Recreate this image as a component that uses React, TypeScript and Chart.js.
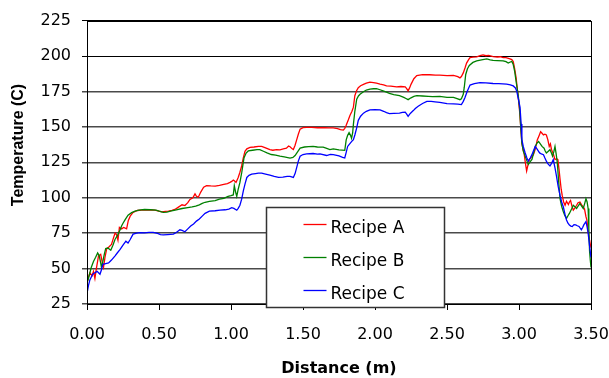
import React, { useEffect, useRef } from "react";
import { Chart, registerables } from "chart.js";

Chart.register(...registerables);

// Distance (m) / temperature (C) samples for each recipe
const distA = [0.00,0.01,0.02,0.035,0.045,0.055,0.065,0.08,0.095,0.105,0.115,0.125,0.137,0.15,0.17,0.185,0.195,0.205,0.215,0.225,0.24,0.255,0.275,0.287,0.30,0.32,0.35,0.38,0.42,0.47,0.50,0.52,0.545,0.565,0.59,0.61,0.63,0.66,0.68,0.70,0.715,0.735,0.75,0.76,0.773,0.79,0.81,0.83,0.86,0.89,0.92,0.95,0.975,0.993,1.005,1.016,1.025,1.035,1.05,1.062,1.074,1.085,1.097,1.11,1.132,1.16,1.19,1.213,1.24,1.27,1.29,1.317,1.34,1.363,1.385,1.40,1.41,1.425,1.433,1.445,1.456,1.468,1.48,1.50,1.525,1.56,1.60,1.618,1.65,1.68,1.71,1.74,1.76,1.78,1.79,1.80,1.815,1.826,1.84,1.85,1.86,1.872,1.884,1.90,1.92,1.94,1.965,1.99,2.01,2.035,2.06,2.08,2.11,2.15,2.18,2.21,2.22,2.23,2.24,2.25,2.27,2.29,2.33,2.38,2.42,2.45,2.50,2.545,2.575,2.59,2.60,2.613,2.625,2.636,2.65,2.66,2.68,2.706,2.73,2.75,2.77,2.79,2.82,2.85,2.87,2.89,2.91,2.937,2.95,2.96,2.97,2.98,2.987,2.995,3.005,3.012,3.02,3.028,3.035,3.045,3.053,3.062,3.072,3.085,3.10,3.112,3.127,3.14,3.15,3.16,3.17,3.18,3.19,3.20,3.21,3.218,3.226,3.238,3.25,3.262,3.27,3.278,3.285,3.293,3.30,3.31,3.32,3.33,3.343,3.35,3.358,3.368,3.377,3.39,3.40,3.41,3.423,3.435,3.446,3.455,3.465,3.472,3.48,3.49,3.50];
const tempA = [40,44,47,45,48,43,50,59,60,55,51,58,64,65,67,72,75,74,70,79,78,79,78,84,87,89.6,91,91.2,91.5,91.2,90.5,90,90.3,90.5,91,91.7,93,95,94.5,96.5,98.8,100,102.7,101,100.4,104,107.4,108.5,108.3,108.2,108.7,109.5,110,110.8,111.5,112.5,111.8,110.8,114.3,118,122.4,128,132.8,134.5,135.5,135.8,136.3,136.3,135.2,133.9,133.5,134,133.8,134.5,135,136.5,136,134.5,134,137,140.8,145,148.4,149.5,149.7,149.6,149.4,149.4,149.5,149.3,149.3,148.8,148,147.7,149,151.2,155,158,161,163.9,172,175.5,177.7,179,180,180.8,181.6,181.2,180.8,180.1,179.6,179,178.8,178.2,178.5,178.2,177,175.4,177.5,180,184,186.2,186.8,186.8,186.5,186.5,186.2,186.3,185.5,184.6,185.5,188.1,191.5,195,197.5,198.9,199.2,199.4,200.3,200.8,200.2,200.5,199.6,199.3,199.5,198.9,198.8,198,197.5,196.2,191,184.6,178,170.8,160,150,138.5,134,131.6,124,118.9,123,126.9,128.5,130.4,134,140.8,144,146.6,145.5,144.3,144.8,144.3,141,136.2,138,133.9,131,126.9,127.5,126.9,120,113.1,106,101.6,97,94.7,97.5,95.2,97,98.1,94,91.2,93,94.7,96.5,96.9,95,93.5,92,86.6,84,76.2,70,64.7];

const distB = [0.00,0.01,0.02,0.03,0.045,0.06,0.074,0.085,0.095,0.10,0.11,0.12,0.13,0.145,0.165,0.18,0.195,0.21,0.23,0.24,0.25,0.265,0.285,0.31,0.333,0.36,0.40,0.44,0.48,0.50,0.53,0.555,0.58,0.62,0.66,0.70,0.73,0.755,0.78,0.80,0.82,0.85,0.89,0.92,0.95,0.98,1.00,1.016,1.023,1.032,1.04,1.05,1.062,1.075,1.09,1.105,1.12,1.15,1.18,1.20,1.225,1.25,1.28,1.31,1.34,1.37,1.41,1.43,1.445,1.46,1.48,1.51,1.54,1.57,1.60,1.64,1.66,1.687,1.71,1.75,1.79,1.80,1.81,1.82,1.83,1.837,1.845,1.85,1.86,1.873,1.885,1.896,1.92,1.94,1.965,1.99,2.01,2.035,2.056,2.08,2.10,2.13,2.17,2.20,2.215,2.23,2.25,2.27,2.29,2.33,2.37,2.40,2.45,2.50,2.545,2.57,2.59,2.60,2.613,2.62,2.63,2.642,2.655,2.68,2.706,2.74,2.776,2.80,2.82,2.85,2.89,2.91,2.925,2.94,2.95,2.96,2.97,2.98,2.995,3.005,3.012,3.02,3.03,3.043,3.055,3.065,3.078,3.09,3.10,3.113,3.125,3.136,3.148,3.16,3.174,3.182,3.19,3.20,3.215,3.225,3.233,3.242,3.25,3.258,3.266,3.275,3.285,3.296,3.308,3.318,3.33,3.34,3.35,3.365,3.377,3.39,3.40,3.41,3.423,3.435,3.446,3.455,3.465,3.473,3.48,3.485,3.49,3.495,3.50];
const tempB = [40,43,47,51,55,58,61,59,54,51,55,60,64.2,64.5,63,66.5,70.7,73,77.4,80,82,84.5,87.7,89.5,90.5,91.2,91.7,91.5,91.2,90.5,89.6,89.8,90.5,91.5,92.4,93,93.5,94,95,96,96.8,97.5,98,99,99.5,101,101.5,102,108.5,104,101,106,110.8,118,128,131.5,133,133.5,134,134,132.8,131.6,130.5,130,129.3,128.8,128,128.4,129.8,132,135,135.8,136,136.2,135.8,135.7,135,134,134.4,133.8,133.4,140.8,144,145.9,144,142,146,151.8,161,169.6,171.8,173,174.8,176,176.6,176.9,177,176.2,175.4,174.5,173.6,172.8,172,170.8,170,169.2,170.5,171.5,172,171.8,171.5,171.3,171.5,170.8,170.8,170,169.2,169.8,173,178,187,191,193.4,195.5,196.6,197.3,198,197.3,197,196.8,196.6,196,195,195.8,196.2,194,189.2,182,172,162,150,138.5,133,129.3,126,123.5,125.5,127,131,136.2,138.5,139.7,138,136.2,135,133,131.6,132.5,133.9,131.5,129.3,132.5,136.2,131,124.7,112,99.3,94,90.1,87.5,85.4,87.3,88.9,92,94.7,93.5,92.4,94,95.9,94,92.4,95.5,99.3,97,92.4,78,62.4,56,50.8];

const distC = [0.00,0.01,0.02,0.03,0.04,0.055,0.07,0.08,0.09,0.10,0.11,0.13,0.15,0.17,0.195,0.21,0.23,0.25,0.27,0.285,0.30,0.32,0.345,0.37,0.40,0.43,0.46,0.49,0.51,0.53,0.56,0.60,0.62,0.645,0.66,0.68,0.70,0.72,0.74,0.76,0.78,0.80,0.82,0.85,0.89,0.924,0.96,0.985,1.005,1.02,1.04,1.05,1.062,1.074,1.086,1.098,1.11,1.125,1.144,1.17,1.19,1.213,1.24,1.27,1.30,1.33,1.36,1.39,1.41,1.433,1.445,1.456,1.468,1.48,1.50,1.525,1.57,1.60,1.618,1.664,1.69,1.71,1.75,1.775,1.79,1.80,1.81,1.82,1.837,1.85,1.86,1.872,1.884,1.90,1.92,1.94,1.965,2.00,2.035,2.06,2.08,2.10,2.13,2.17,2.19,2.21,2.22,2.23,2.245,2.266,2.28,2.30,2.33,2.36,2.39,2.417,2.45,2.50,2.545,2.575,2.60,2.613,2.625,2.64,2.66,2.69,2.729,2.77,2.82,2.86,2.914,2.94,2.96,2.975,2.984,2.995,3.007,3.015,3.02,3.03,3.043,3.055,3.065,3.078,3.09,3.10,3.113,3.128,3.143,3.155,3.17,3.18,3.19,3.20,3.215,3.225,3.238,3.25,3.26,3.272,3.285,3.296,3.308,3.32,3.33,3.34,3.35,3.36,3.37,3.382,3.394,3.405,3.417,3.425,3.433,3.442,3.45,3.458,3.465,3.472,3.48,3.49,3.50];
const tempC = [32.4,38,42,44,46,47,48,47,46,49,53,53.5,54,56,59,61,63.5,66.5,69.3,68,70.5,74.3,75,75.4,75.2,75.5,75.6,74.8,74,73.8,74,74.3,75.5,77.4,77,76,78,80,81.5,83.5,85,87,89,90.5,90.8,91.2,91.5,92,93,92.5,91.2,92.5,94.7,99,105,110,114.3,115.8,116.6,117,117.3,117.3,116.7,116,115,114.3,114.6,115,115,114.3,117,121.2,126,129.3,130.5,131,131.2,130.8,131,129.8,130.6,130.4,129.5,128.5,128.1,132,136.2,137.5,139.6,141,144.3,149,154.6,157.5,159.7,161,162,162.2,162,161,160,159.3,159.5,159.7,160.2,160.4,159,157.4,159.5,161.5,163,164.6,166.5,168,168,167.7,167.3,166.4,166.2,166,165.7,168,170.8,175,179.5,180.5,181.2,181,180.6,180.5,180.1,179.7,178.9,177.5,175.4,170,163.9,152,141,136,131.6,128,125.8,128,130.4,133,136.2,134,131.6,131,130.4,128,125.8,124,122.4,124,126.9,121,115.5,108,101.6,97,93.5,88,84.3,82,80.8,80,79.7,81,80.8,80.2,79.7,78.5,77.4,79,80.8,82,83.1,80,75.1,66,57.8];

const seriesNames = ["Recipe A", "Recipe B", "Recipe C"];
const seriesColors = ["#ff0000", "#008000", "#0000ff"];
const yTicks = [25, 50, 75, 100, 125, 150, 175, 200, 225];

const TICK_FONT = { family: "'DejaVu Sans', sans-serif", size: 16 };

function pairs(xs: number[], ys: number[]) {
  return xs.map((x, i) => ({ x, y: ys[i] }));
}

// Frame, rotated y title and the boxed legend inside the plot area
const decorations = {
  id: "decorations",
  afterDatasetsDraw(chart: any) {
    const { ctx, chartArea: ca } = chart;
    ctx.save();
    // plot frame
    ctx.strokeStyle = "#000";
    ctx.lineWidth = 1;
    ctx.strokeRect(Math.round(ca.left) + 0.5, Math.round(ca.top) + 0.5, Math.round(ca.right - ca.left), Math.round(ca.bottom - ca.top));

    // legend box
    const bx = Math.round(ca.left + 179) + 0.5;
    const by = Math.round(ca.top + 186) + 0.5;
    const bw = 178;
    const bh = 100;
    ctx.fillStyle = "#fff";
    ctx.fillRect(bx, by, bw, bh);
    ctx.strokeStyle = "#333";
    ctx.lineWidth = 1.5;
    ctx.strokeRect(bx, by, bw, bh);

    ctx.font = "17px 'DejaVu Sans', sans-serif";
    ctx.textBaseline = "middle";
    ctx.textAlign = "left";
    seriesNames.forEach((name, i) => {
      const rowY = by + 21 + i * 33;
      ctx.strokeStyle = seriesColors[i];
      ctx.lineWidth = 1.3;
      ctx.beginPath();
      ctx.moveTo(bx + 37, rowY - 4);
      ctx.lineTo(bx + 60, rowY - 4);
      ctx.stroke();
      ctx.fillStyle = "#000";
      ctx.fillText(name, bx + 64, rowY);
    });

    // y axis title
    ctx.translate(19, 145);
    ctx.rotate(-Math.PI / 2);
    ctx.font = "bold 16px 'Liberation Sans', Arial, sans-serif";
    ctx.textAlign = "center";
    ctx.textBaseline = "middle";
    ctx.fillStyle = "#000";
    ctx.fillText("Temperature (C)", 0, 0);
    ctx.restore();
  },
};

export default function App() {
  const ref = useRef<HTMLCanvasElement | null>(null);

  useEffect(() => {
    document.body.style.margin = "0";
    const canvas = ref.current;
    if (!canvas) return;
    const chart = new Chart(canvas, {
      type: "line",
      data: {
        datasets: [
          { label: seriesNames[0], data: pairs(distA, tempA), borderColor: seriesColors[0], order: 2 },
          { label: seriesNames[1], data: pairs(distB, tempB), borderColor: seriesColors[1], order: 1 },
          { label: seriesNames[2], data: pairs(distC, tempC), borderColor: seriesColors[2], order: 0 },
        ].map((d) => ({ ...d, borderWidth: 1.3, pointRadius: 0, tension: 0, fill: false })),
      },
      options: {
        responsive: false,
        animation: false,
        events: [],
        layout: { padding: { left: 0, right: 0, top: 15, bottom: 0 } },
        plugins: { legend: { display: false }, tooltip: { enabled: false } },
        scales: {
          x: {
            type: "linear",
            min: 0,
            max: 3.5,
            afterFit: (s: any) => { s.height = 74; s.paddingRight = 18; },
            ticks: {
              stepSize: 0.5,
              color: "#000",
              font: TICK_FONT,
              padding: 15,
              maxRotation: 0,
              callback: (v: any) => Number(v).toFixed(2),
            },
            grid: { drawOnChartArea: false, drawTicks: true, tickLength: 6, color: "#000", lineWidth: 1 },
            border: { color: "#000", width: 1 },
            title: {
              display: true,
              text: "Distance (m)",
              color: "#000",
              font: { family: "'DejaVu Sans', sans-serif", size: 16, weight: "bold" },
              padding: { top: 0, bottom: 0 },
            },
          },
          y: {
            min: 25,
            max: 225,
            afterFit: (s: any) => { s.width = 87; },
            afterBuildTicks: (s: any) => { s.ticks = yTicks.map((v) => ({ value: v })); },
            ticks: { color: "#000", font: TICK_FONT, padding: 11 },
            grid: {
              drawTicks: true,
              tickLength: 5,
              color: (c: any) => (c.tick && c.tick.value >= 200 ? "#000" : "#4a4a4a"),
              lineWidth: (c: any) => (c.tick && c.tick.value >= 200 ? 1 : 1.5),
            },
            border: { color: "#000", width: 1 },
          },
        },
      },
      plugins: [decorations],
    });
    return () => chart.destroy();
  }, []);

  return (
    <div style={{ width: 609, height: 378 }}>
      <canvas ref={ref} width={609} height={378} />
    </div>
  );
}
